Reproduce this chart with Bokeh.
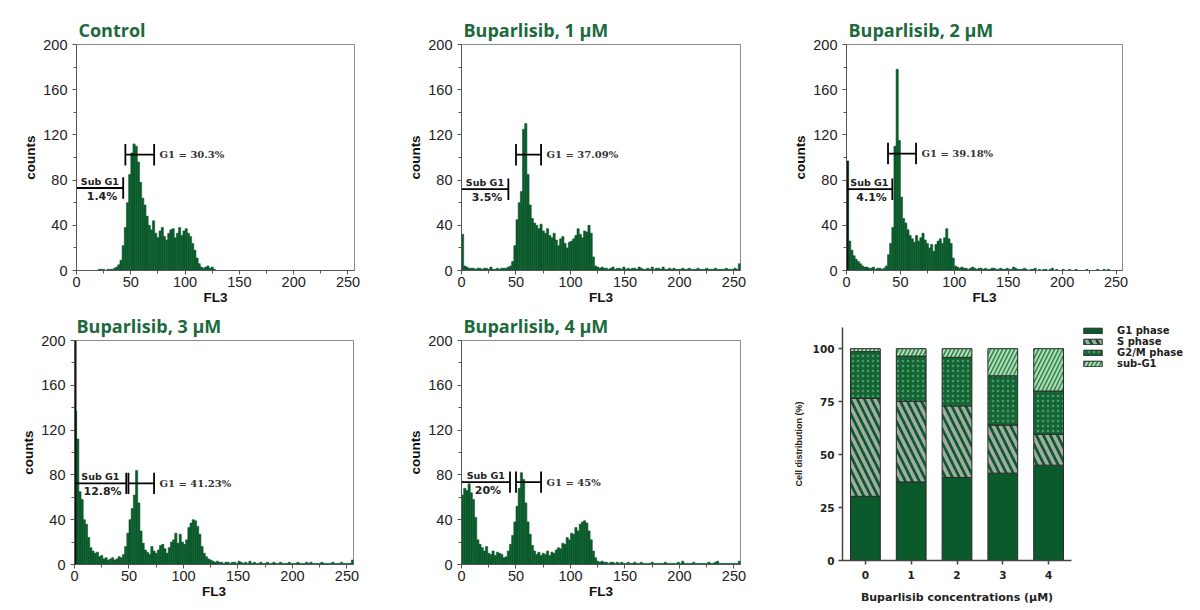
from bokeh.plotting import figure
from bokeh.layouts import row, column
from bokeh.models import Range1d, FixedTicker, Label, Legend, LegendItem, ColumnDataSource, FactorRange
from bokeh.core.properties import value
from bokeh.embed import file_html
from bokeh.resources import INLINE

# ---------------- data ----------------
BIN_W = 2  # FL3 channels per histogram bin

hist_titles = ["Control", "Buparlisib, 1 µM", "Buparlisib, 2 µM", "Buparlisib, 3 µM", "Buparlisib, 4 µM"]

counts_control = [
    0, 0, 0, 0, 0, 0, 0, 0, 0, 0,
    1, 1, 1, 0, 1, 1, 1, 2, 3, 5,
    9, 22, 38, 60, 85, 104, 112, 110, 96, 78,
    64, 58, 48, 40, 36, 44, 33, 29, 35, 38,
    30, 27, 33, 36, 37, 29, 33, 38, 31, 35,
    37, 33, 30, 24, 18, 11, 6, 3, 2, 3,
    4, 2, 3, 1, 0, 0, 0, 0, 0, 0,
    0, 0, 0, 0, 0, 0, 0, 0, 0, 0,
    0, 0, 0, 0, 0, 0, 0, 0, 0, 0,
    0, 0, 0, 0, 0, 0, 0, 0, 0, 0,
    0, 0, 0, 0, 0, 0, 0, 0, 0, 0,
    0, 0, 0, 0, 0, 0, 0, 0, 0, 0,
    0, 0, 0, 0, 0, 0, 0, 0,
]
counts_1uM = [
    32, 4, 3, 2, 2, 2, 1, 2, 2, 1,
    2, 2, 1, 3, 1, 1, 2, 1, 2, 2,
    2, 3, 4, 8, 22, 45, 60, 70, 125, 130,
    85, 58, 46, 42, 40, 37, 41, 35, 33, 37,
    31, 29, 33, 27, 22, 28, 30, 24, 20, 25,
    26, 28, 31, 37, 32, 29, 35, 34, 40, 33,
    12, 4, 3, 2, 3, 2, 2, 1, 2, 3,
    1, 2, 2, 1, 3, 1, 2, 1, 2, 2,
    1, 3, 2, 1, 1, 2, 1, 3, 1, 2,
    2, 1, 3, 1, 1, 2, 1, 2, 1, 1,
    1, 2, 1, 1, 2, 1, 1, 1, 2, 1,
    1, 1, 2, 1, 1, 1, 2, 1, 1, 1,
    1, 2, 1, 1, 1, 2, 1, 6,
]
counts_2uM = [
    97, 26, 18, 13, 10, 8, 6, 4, 3, 3,
    2, 2, 3, 1, 2, 2, 1, 2, 4, 14,
    24, 38, 110, 178, 115, 65, 46, 42, 36, 31,
    28, 25, 31, 26, 29, 33, 27, 24, 20, 23,
    17, 23, 26, 28, 24, 29, 37, 28, 24, 11,
    4, 3, 2, 3, 2, 2, 1, 2, 3, 2,
    1, 2, 2, 1, 2, 1, 1, 2, 2, 1,
    1, 2, 1, 1, 2, 1, 1, 3, 2, 1,
    1, 1, 2, 1, 0, 1, 1, 2, 0, 1,
    0, 1, 1, 0, 1, 2, 0, 1, 0, 0,
    1, 0, 0, 1, 0, 0, 1, 0, 0, 0,
    0, 1, 0, 0, 0, 0, 1, 0, 0, 1,
    0, 1, 0, 0, 0, 0, 0, 0,
]
counts_3uM = [
    137, 112, 65, 58, 40, 36, 24, 15, 12, 10,
    11, 7, 8, 5, 6, 4, 5, 6, 4, 5,
    7, 6, 9, 16, 28, 40, 50, 62, 84, 55,
    30, 19, 13, 11, 9, 16, 12, 10, 13, 17,
    18, 14, 10, 15, 20, 22, 28, 19, 27, 20,
    18, 22, 33, 37, 40, 39, 34, 27, 16, 10,
    7, 5, 4, 3, 2, 3, 2, 2, 1, 2,
    2, 1, 2, 2, 1, 3, 2, 1, 2, 1,
    3, 1, 2, 1, 1, 2, 1, 1, 2, 1,
    1, 2, 1, 1, 2, 1, 1, 1, 2, 1,
    1, 1, 2, 1, 1, 1, 2, 1, 2, 1,
    1, 1, 1, 2, 1, 1, 1, 1, 2, 1,
    1, 1, 2, 1, 1, 1, 1, 4,
]
counts_4uM = [
    62, 68, 66, 72, 64, 58, 42, 22, 18, 15,
    12, 16, 10, 9, 12, 8, 11, 10, 9, 6,
    7, 12, 18, 26, 38, 52, 68, 82, 76, 55,
    38, 27, 17, 12, 9, 11, 8, 10, 9, 12,
    8, 11, 10, 13, 15, 14, 19, 18, 24, 22,
    28, 27, 33, 30, 36, 38, 39, 37, 30, 22,
    12, 6, 3, 2, 3, 2, 2, 1, 2, 2,
    1, 2, 1, 2, 1, 1, 2, 1, 1, 2,
    1, 1, 2, 1, 1, 1, 1, 2, 1, 1,
    1, 1, 1, 2, 1, 1, 1, 1, 1, 2,
    1, 3, 1, 1, 1, 1, 2, 1, 1, 1,
    1, 1, 1, 2, 1, 1, 2, 3, 1, 1,
    1, 1, 1, 1, 1, 1, 1, 3,
]
hist_counts = [counts_control, counts_1uM, counts_2uM, counts_3uM, counts_4uM]

# events piled in channel 0 (drawn as a dark line on the axis)
zero_spike = [0, 0, 97, 210, 0]

# gates
subg1_pct = ["1.4%", "3.5%", "4.1%", "12.8%", "20%"]
g1_pct = ["30.3%", "37.09%", "39.18%", "41.23%", "45%"]
subg1_hi = [43, 43, 42.5, 47.5, 44.5]
g1_lo = [45, 50, 38.5, 49.5, 50]
g1_hi = [71.5, 73, 64.5, 73, 73]
subg1_level = [73, 72, 72, 72.5, 73.5]
g1_level = [102.5, 102.5, 103.5, 72.5, 73.5]

fl3_ticks = [0, 50, 100, 150, 200, 250]
fl3_minor = [25, 75, 125, 175, 225]
count_ticks = [0, 40, 80, 120, 160, 200]
count_minor = [20, 60, 100, 140, 180]

# stacked bar chart
concentrations = ["0", "1", "2", "3", "4"]
g1_phase = [30.3, 37.09, 39.18, 41.23, 45.0]
s_phase = [46.2, 38.1, 33.8, 22.7, 14.6]
g2m_phase = [22.1, 21.31, 22.92, 23.27, 20.4]
sub_g1 = [1.4, 3.5, 4.1, 12.8, 20.0]
phase_keys = ["g1", "s", "g2m", "sub"]
phase_labels = ["G1 phase", "S phase", "G2/M phase", "sub-G1"]
dist_ticks = [0, 25, 50, 75, 100]

# ---------------- style ----------------
GREEN = "#0b5a2c"
TITLE_GREEN = "#1b6a3c"
AX = "#555555"

phase_fill = ["#0b5a2c", "#0b5a2c", "#136535", "#2f7d48"]
phase_hatch = [" ", "\\", ".", "/"]
phase_hatch_color = ["#0b5a2c", "#a3aaa3", "#4f9a64", "#a9dcb3"]
phase_hatch_weight = [1, 3.5, 0.8, 2.2]
phase_hatch_scale = [6, 14, 5, 8]


def make_hist(k, w, h, bl, br, bt, bb):
    p = figure(width=w, height=h, x_range=Range1d(0, 256), y_range=Range1d(0, 200),
               output_backend="svg", toolbar_location=None,
               min_border_left=bl, min_border_right=br, min_border_top=bt, min_border_bottom=bb,
               title=hist_titles[k])
    counts = hist_counts[k]
    left = [j * BIN_W for j in range(len(counts))]
    right = [x + BIN_W for x in left]
    p.quad(left=left, right=right, bottom=0, top=counts,
           fill_color=GREEN, line_color=GREEN, line_width=0.6)
    if zero_spike[k] > 0:
        p.segment(x0=[0.7], y0=[0], x1=[0.7], y1=[zero_spike[k]], line_color="#111111", line_width=2.5)

    t = 9.5
    sy = subg1_level[k]
    gy = g1_level[k]
    p.segment(x0=[0, subg1_hi[k]], y0=[sy, sy - t], x1=[subg1_hi[k], subg1_hi[k]], y1=[sy, sy + t],
              line_color="black", line_width=1.8)
    p.segment(x0=[g1_lo[k], g1_lo[k], g1_hi[k]], y0=[gy, gy - t, gy - t],
              x1=[g1_hi[k], g1_lo[k], g1_hi[k]], y1=[gy, gy + t, gy + t],
              line_color="black", line_width=1.8)
    p.add_layout(Label(x=subg1_hi[k] / 2, y=sy + 1, text="Sub G1", text_align="center",
                       text_baseline="bottom", text_font="DejaVu Sans", text_font_size="9.5px",
                       text_font_style="bold", text_color="#222222"))
    p.add_layout(Label(x=subg1_hi[k] / 2 + 2, y=sy - 1.5, text=subg1_pct[k], text_align="center",
                       text_baseline="top", text_font="DejaVu Sans", text_font_size="11px",
                       text_font_style="bold", text_color="#222222"))
    p.add_layout(Label(x=g1_hi[k] + 5, y=gy, text="G1 = " + g1_pct[k], text_align="left",
                       text_baseline="middle", text_font="DejaVu Serif", text_font_size="10px",
                       text_font_style="bold", text_color="#333333"))

    p.grid.visible = False
    p.outline_line_color = "#8a8a8a"
    p.xaxis.ticker = FixedTicker(ticks=fl3_ticks, minor_ticks=fl3_minor)
    p.yaxis.ticker = FixedTicker(ticks=count_ticks, minor_ticks=count_minor)
    p.xaxis.axis_label = "FL3"
    p.yaxis.axis_label = "counts"
    for ax in (p.xaxis[0], p.yaxis[0]):
        ax.axis_line_color = AX
        ax.major_tick_line_color = AX
        ax.minor_tick_line_color = AX
        ax.major_tick_in = 0
        ax.minor_tick_in = 0
        ax.major_tick_out = 4
        ax.minor_tick_out = 3
        ax.major_label_text_font = "Liberation Sans"
        ax.major_label_text_font_size = "14.5px"
        ax.major_label_text_color = "#222222"
        ax.axis_label_text_font = "Liberation Sans"
        ax.axis_label_text_font_size = "13.5px"
        ax.axis_label_text_font_style = "bold"
        ax.axis_label_text_color = "#111111"
    p.xaxis.major_label_standoff = 2
    p.xaxis.axis_label_standoff = 0
    p.yaxis.major_label_standoff = 5
    p.yaxis.axis_label_standoff = 2

    p.title.text_font = "Open Sans"
    p.title.text_font_size = "18px"
    p.title.text_font_style = "bold"
    p.title.text_color = TITLE_GREEN
    p.title.align = "left"
    p.title.standoff = 6
    p.title.offset = 2
    return p


p1 = make_hist(0, 405, 308, 76, 51, 44, 38)
p2 = make_hist(1, 385, 308, 56, 50, 44, 38)
p3 = make_hist(2, 410, 308, 53, 78, 44, 38)
p4 = make_hist(3, 405, 302, 74, 52, 31, 46)
p5 = make_hist(4, 385, 302, 56, 50, 31, 46)

# ---------------- stacked bars ----------------
src = ColumnDataSource(dict(conc=concentrations, g1=g1_phase, s=s_phase, g2m=g2m_phase, sub=sub_g1))
bar_style = dict(fill_color=phase_fill, hatch_pattern=phase_hatch, hatch_color=phase_hatch_color,
                 hatch_weight=phase_hatch_weight, hatch_scale=phase_hatch_scale,
                 line_color="#2a2a2a", line_width=1)
pb = figure(width=286, height=302, x_range=FactorRange(*concentrations), y_range=Range1d(0, 110),
            output_backend="svg", toolbar_location=None,
            min_border_left=44, min_border_right=5, min_border_top=19, min_border_bottom=50)
pb.title.visible = False
pb.vbar_stack(phase_keys, x="conc", width=0.65, source=src, **bar_style)
pb.grid.visible = False
pb.outline_line_color = None
pb.yaxis.ticker = FixedTicker(ticks=dist_ticks)
pb.yaxis.axis_label = "Cell distribution (%)"
pb.xaxis.axis_label = "Buparlisib concentrations (μM)"
for ax in (pb.xaxis[0], pb.yaxis[0]):
    ax.axis_line_color = "#444444"
    ax.axis_line_width = 1.5
    ax.major_tick_line_color = "#444444"
    ax.major_tick_line_width = 1.5
    ax.major_tick_in = 0
    ax.major_tick_out = 4
    ax.minor_tick_line_color = None
    ax.major_label_text_font = "DejaVu Sans"
    ax.major_label_text_font_size = "10.5px"
    ax.major_label_text_font_style = "bold"
    ax.major_label_text_color = "#222222"
    ax.axis_label_text_font = "DejaVu Sans"
    ax.axis_label_text_font_style = "bold"
    ax.axis_label_text_color = "#222222"
pb.xaxis.axis_label_text_font_size = "11px"
pb.yaxis.axis_label_text_font = "Liberation Sans"
pb.yaxis.axis_label_text_font_style = "bold"
pb.yaxis.axis_label_text_font_size = "9px"
pb.xaxis.major_label_standoff = 6
pb.xaxis.axis_label_standoff = 9
pb.yaxis.major_label_standoff = 4
pb.yaxis.axis_label_standoff = 6

# legend panel: same stacked bars, kept out of its view, used only for the keys
pl = figure(width=124, height=302, x_range=FactorRange(*concentrations), y_range=Range1d(500, 600),
            output_backend="svg", toolbar_location=None,
            min_border_left=0, min_border_right=0, min_border_top=0, min_border_bottom=0)
pl.title.visible = False
pl.axis.visible = False
pl.grid.visible = False
pl.outline_line_color = None
keys = pl.vbar_stack(phase_keys, x="conc", width=0.65, source=src, **bar_style)
legend = Legend(items=[LegendItem(label=lab, renderers=[r]) for lab, r in zip(phase_labels, keys)],
                location=(5, 241), glyph_width=23, glyph_height=7, label_height=8,
                spacing=0, padding=0, margin=0, label_standoff=13,
                label_text_font="DejaVu Sans", label_text_font_size="10px",
                label_text_font_style="bold", label_text_color="#222222",
                border_line_color=None, background_fill_alpha=0)
pl.add_layout(legend)

layout = column(row(p1, p2, p3), row(column(p4), column(p5), column(pb), column(pl)))
open("out.html", "w").write(file_html(layout, INLINE))
